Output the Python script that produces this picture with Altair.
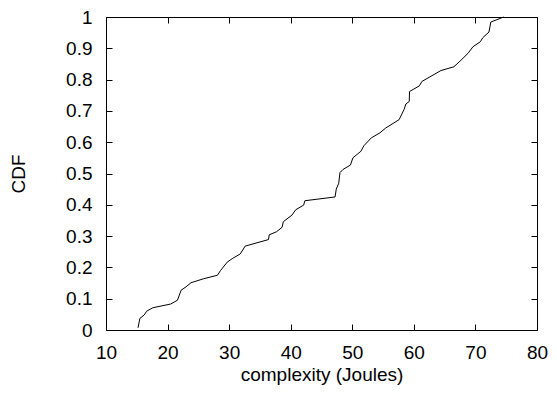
import altair as alt
import pandas as pd

# traced CDF curve
complexity = [15.2, 15.5, 16.2, 16.6, 17.6, 20.5, 21.6, 22.2, 23.0, 23.8, 25.9, 28.1,
              28.6, 29.7, 30.5, 31.8, 32.6, 36.4, 36.5, 37.7, 38.6, 38.8, 40.2, 40.8,
              42.1, 42.3, 47.2, 47.4, 47.8, 48.0, 48.5, 49.7, 50.1, 51.4, 51.9, 53.1,
              54.5, 55.4, 57.6, 58.4, 58.7, 59.25, 59.3, 60.9, 61.3, 64.4, 66.5, 67.5,
              68.8, 69.6, 70.8, 71.2, 72.2, 72.5, 74.6]
cdf = [0.007, 0.037, 0.048, 0.060, 0.071, 0.083, 0.095, 0.127, 0.138, 0.151, 0.164, 0.175,
       0.190, 0.217, 0.228, 0.243, 0.268, 0.289, 0.304, 0.314, 0.328, 0.346, 0.367, 0.384,
       0.399, 0.413, 0.425, 0.450, 0.469, 0.503, 0.513, 0.527, 0.550, 0.571, 0.589, 0.614,
       0.630, 0.645, 0.672, 0.704, 0.722, 0.730, 0.762, 0.780, 0.794, 0.829, 0.841, 0.859,
       0.884, 0.905, 0.921, 0.934, 0.952, 0.984, 1.0]

x_ticks = [10, 20, 30, 40, 50, 60, 70, 80]
y_ticks = [0, 0.1, 0.2, 0.3, 0.4, 0.5, 0.6, 0.7, 0.8, 0.9, 1]

W, H = 431, 313
TL = 6
FONT = "Liberation Sans"
FS = 19

df = pd.DataFrame({"x": complexity, "y": cdf})

xscale = alt.Scale(domain=[10, 80], nice=False, zero=False)
yscale = alt.Scale(domain=[0, 1], nice=False, zero=False)

common = dict(ticks=True, tickSize=TL, tickColor="black", tickWidth=1, offset=-TL,
              domain=False, grid=False, labelFont=FONT, titleFont=FONT,
              labelFontSize=FS, titleFontSize=FS, labelColor="black",
              titleColor="black", titleFontWeight="normal", labelFlush=False)

xaxis = alt.Axis(orient="bottom", values=x_ticks, format="d", labelPadding=13,
                 titlePadding=3, **common)
yaxis = alt.Axis(orient="left", values=y_ticks, format="~g", labelPadding=14,
                 titlePadding=37, **common)
xaxis2 = alt.Axis(orient="top", values=x_ticks, labels=False, **common)
yaxis2 = alt.Axis(orient="right", values=y_ticks, labels=False, **common)

line = alt.Chart(df).mark_line(color="black", strokeWidth=1).encode(
    x=alt.X("x:Q", scale=xscale, axis=xaxis, title="complexity (Joules)"),
    y=alt.Y("y:Q", scale=yscale, axis=yaxis, title="CDF"),
    order=alt.Order("x:Q"))

mirror = alt.Chart(df).mark_line(color="black", strokeWidth=1, opacity=0).encode(
    x=alt.X("x:Q", scale=xscale, axis=xaxis2, title=None),
    y=alt.Y("y:Q", scale=yscale, axis=yaxis2, title=None),
    order=alt.Order("x:Q"))

chart = alt.layer(line, mirror).resolve_axis(x="independent", y="independent").properties(
    width=W, height=H,
    background="white",
    autosize=alt.AutoSizeParams(type="none"),
    padding={"left": 98, "top": 9, "right": 12, "bottom": 57},
).configure_view(stroke="black", strokeWidth=1)

chart.save("out.html", embed_options={"renderer": "svg", "actions": False})
